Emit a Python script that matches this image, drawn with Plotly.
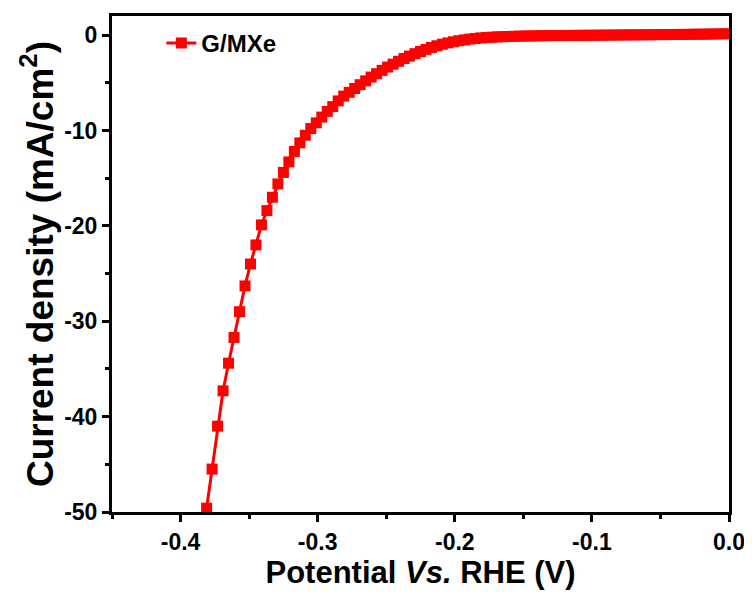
import plotly.graph_objects as go

# LSV data (potential in V vs RHE, current density in mA/cm2)
potential = [
    -0.381, -0.377, -0.373, -0.369, -0.365, -0.361, -0.357, -0.353, -0.349, -0.345,
    -0.341, -0.337, -0.333, -0.329, -0.325, -0.321, -0.317, -0.313, -0.309, -0.305,
    -0.301, -0.297, -0.293, -0.289, -0.285, -0.281, -0.277, -0.273, -0.269, -0.265,
    -0.261, -0.257, -0.253, -0.249, -0.245, -0.241, -0.237, -0.233, -0.229, -0.225,
    -0.221, -0.217, -0.213, -0.209, -0.205, -0.201, -0.197, -0.193, -0.189, -0.185,
    -0.181, -0.177, -0.173, -0.169, -0.165, -0.161, -0.157, -0.153, -0.149, -0.145,
    -0.141, -0.137, -0.133, -0.129, -0.125, -0.121, -0.117, -0.113, -0.109, -0.105,
    -0.101, -0.097, -0.093, -0.089, -0.085, -0.081, -0.077, -0.073, -0.069, -0.065,
    -0.061, -0.057, -0.053, -0.049, -0.045, -0.041, -0.037, -0.033, -0.029, -0.025,
    -0.021, -0.017, -0.013, -0.009, -0.005, -0.001,
]
current = [
    -49.6, -45.5, -41.0, -37.3, -34.4, -31.7, -29.0, -26.3, -24.0, -22.0,
    -19.9, -18.4, -17.0, -15.6, -14.4, -13.3, -12.2, -11.3, -10.5, -9.8,
    -9.2, -8.6, -8.0, -7.5, -6.9, -6.4, -6.0, -5.6, -5.2, -4.8,
    -4.4, -4.05, -3.7, -3.35, -3.05, -2.75, -2.45, -2.2, -1.95, -1.72,
    -1.5, -1.3, -1.12, -0.96, -0.82, -0.70, -0.59, -0.50, -0.42, -0.35,
    -0.30, -0.26, -0.22, -0.19, -0.17, -0.15, -0.13, -0.11, -0.10, -0.09,
    -0.08, -0.07, -0.06, -0.05, -0.05, -0.04, -0.04, -0.03, -0.03, -0.02,
    -0.02, -0.01, -0.01, 0.00, 0.00, 0.01, 0.01, 0.02, 0.02, 0.03,
    0.03, 0.04, 0.04, 0.05, 0.05, 0.06, 0.07, 0.07, 0.08, 0.09,
    0.09, 0.10, 0.11, 0.12, 0.13, 0.14,
]
series_name = "G/MXe"

x_ticks = [-0.4, -0.3, -0.2, -0.1, 0.0]
x_labels = ["-0.4", "-0.3", "-0.2", "-0.1", "0.0"]
y_ticks = [0, -10, -20, -30, -40, -50]
y_labels = ["0", "-10", "-20", "-30", "-40", "-50"]

FONT = "Liberation Sans, Arial"
tick_font = dict(family=FONT, size=23, color="black")

fig = go.Figure()
fig.add_trace(go.Scatter(
    x=potential, y=current, name="<b>" + series_name + "</b>",
    mode="lines+markers",
    line=dict(color="#ff0000", width=3),
    marker=dict(symbol="square", size=11, color="#ff0000"),
))

axis_common = dict(
    showline=True, linewidth=3, linecolor="black", mirror=True,
    ticks="outside", ticklen=7, tickwidth=3, tickcolor="black",
    showgrid=False, zeroline=False,
    tickfont=tick_font,
)

fig.update_xaxes(
    range=[-0.45, 0.0],
    tickvals=x_ticks, ticktext=["<b>%s</b>" % t for t in x_labels],
    minor=dict(ticks="outside", ticklen=4, tickwidth=3, dtick=0.05, tick0=0, tickcolor="black"),
    title=dict(text="<b>Potential <i>Vs.</i> RHE (V)</b>",
               font=dict(family=FONT, size=31, color="black"), standoff=2),
    **axis_common,
)
fig.update_yaxes(
    range=[-50, 2],
    tickvals=y_ticks, ticktext=["<b>%s</b>" % t for t in y_labels],
    minor=dict(ticks="outside", ticklen=4, tickwidth=3, dtick=5, tick0=0, tickcolor="black"),
    title=dict(text="<b>Current density (mA/cm<sup>2</sup>)</b>",
               font=dict(family=FONT, size=37, color="black"), standoff=0),
    **axis_common,
)

fig.update_layout(
    width=752, height=592,
    margin=dict(l=104, r=31, t=5, b=88),
    plot_bgcolor="white", paper_bgcolor="white",
    showlegend=True,
    legend=dict(
        x=0.08, y=0.945, xanchor="left", yanchor="middle",
        bgcolor="rgba(0,0,0,0)",
        font=dict(family=FONT, size=24, color="black"),
    ),
)

fig.write_html("out.html")
